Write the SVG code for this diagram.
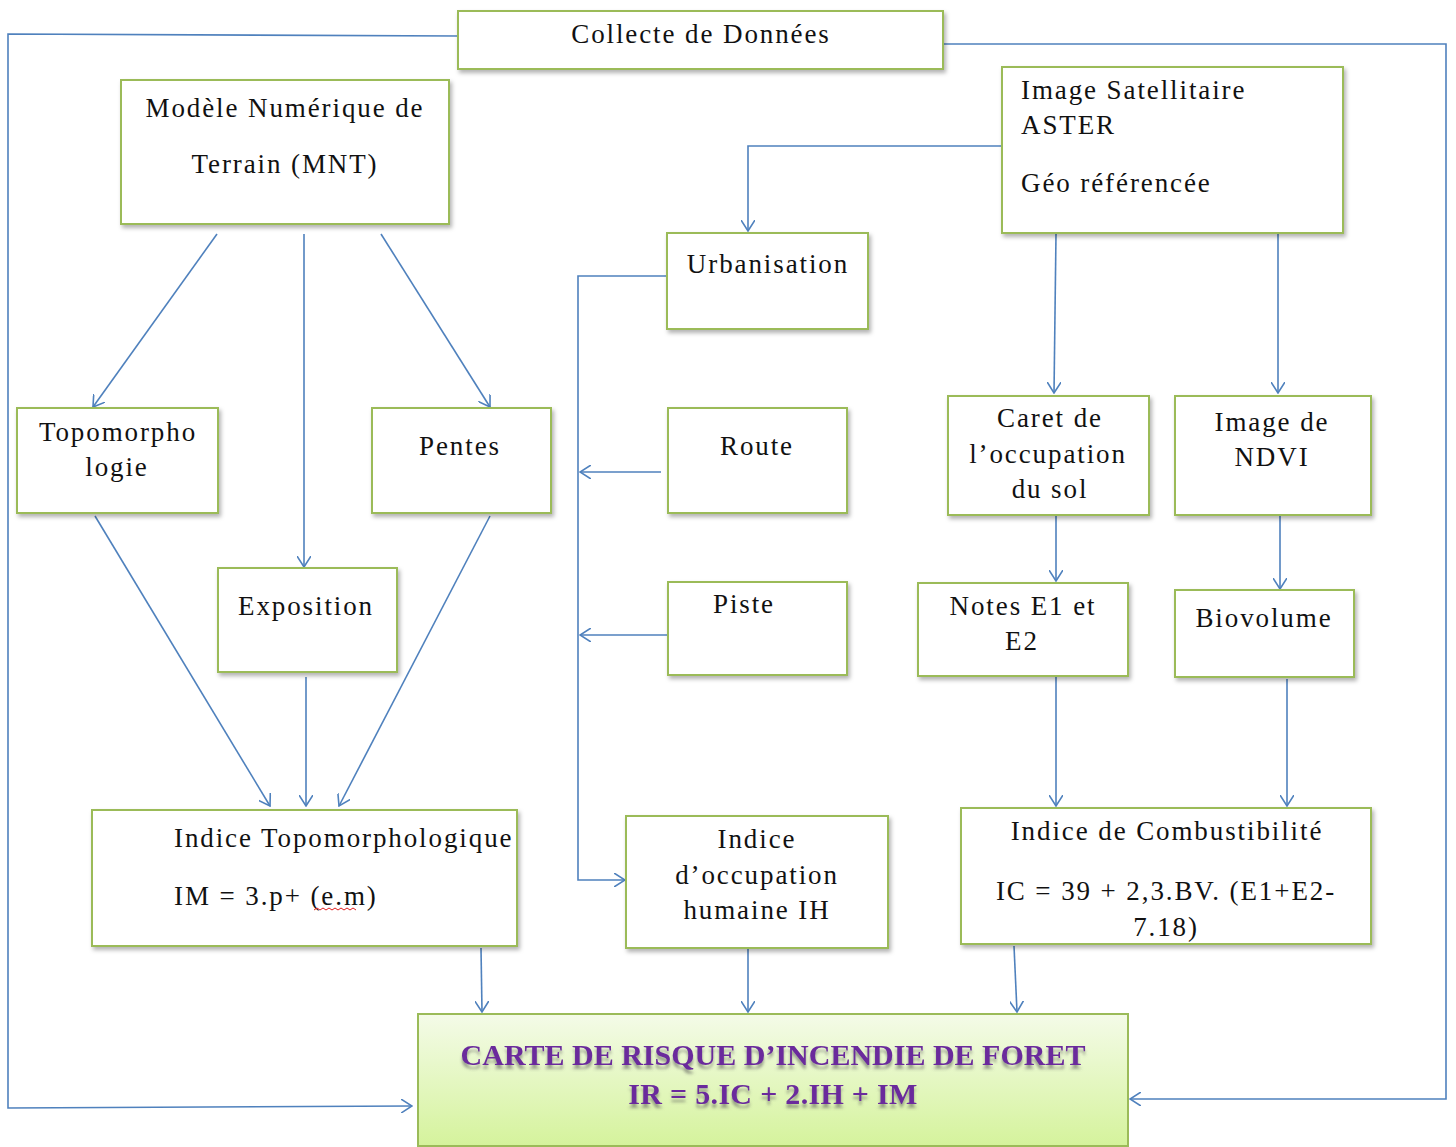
<svg xmlns="http://www.w3.org/2000/svg" width="1456" height="1147" viewBox="0 0 1456 1147">
<defs>
<style>
.box{fill:#fff;stroke:#9bbb59;stroke-width:2;filter:url(#sh)}
.t{font-family:"Liberation Serif","Times New Roman",serif;font-size:27px;letter-spacing:1.9px;fill:#111}
.c{text-anchor:middle}
.ln{fill:none;stroke:#4f81bd;stroke-width:1.6}
.ar{marker-end:url(#ah)}
.big{font-family:"Liberation Serif","Times New Roman",serif;font-size:30px;font-weight:bold;fill:#6b2c9c;text-anchor:middle;filter:url(#tsh)}
</style>
<marker id="ah" viewBox="0 0 12 14" refX="11" refY="7" markerWidth="12" markerHeight="14" markerUnits="userSpaceOnUse" orient="auto">
<path d="M0,0 L11,7 L0,14" fill="none" stroke="#4f81bd" stroke-width="1.6"/>
</marker>
<filter id="sh" x="-10%" y="-10%" width="125%" height="130%">
<feDropShadow dx="2" dy="3" stdDeviation="2" flood-color="#000" flood-opacity="0.3"/>
</filter>
<filter id="tsh" x="-10%" y="-30%" width="120%" height="180%">
<feDropShadow dx="0" dy="4" stdDeviation="1.6" flood-color="#555" flood-opacity="0.55"/>
</filter>
<linearGradient id="gg" x1="0" y1="0" x2="0" y2="1">
<stop offset="0" stop-color="#f4fbe8"/>
<stop offset="1" stop-color="#d5f39c"/>
</linearGradient>
<clipPath id="cpic"><rect x="962" y="809" width="408" height="134"/></clipPath>
</defs>

<g id="connectors">
<polyline class="ln ar" points="458,36 8,34 8,1108 412,1106"/>
<polyline class="ln ar" points="943,44 1446,44 1446,1099 1130,1099"/>
<line class="ln ar" x1="217" y1="234" x2="93" y2="407"/>
<line class="ln ar" x1="304" y1="234" x2="304" y2="567"/>
<line class="ln ar" x1="381" y1="234" x2="490" y2="407"/>
<line class="ln ar" x1="95" y1="516" x2="270" y2="806"/>
<line class="ln ar" x1="306" y1="677" x2="306" y2="806"/>
<line class="ln ar" x1="490" y1="516" x2="339" y2="806"/>
<polyline class="ln ar" points="1002,146 748,146 748,231"/>
<polyline class="ln ar" points="667,276 578,276 578,880 625,880"/>
<line class="ln ar" x1="661" y1="472" x2="580" y2="472"/>
<line class="ln ar" x1="667" y1="635" x2="580" y2="635"/>
<line class="ln ar" x1="1056" y1="234" x2="1054" y2="393"/>
<line class="ln ar" x1="1278" y1="234" x2="1278" y2="393"/>
<line class="ln ar" x1="1056" y1="516" x2="1056" y2="581"/>
<line class="ln ar" x1="1280" y1="516" x2="1280" y2="589"/>
<line class="ln ar" x1="1056" y1="677" x2="1056" y2="806"/>
<line class="ln ar" x1="1287" y1="679" x2="1287" y2="806"/>
<line class="ln ar" x1="481" y1="948" x2="482" y2="1012"/>
<line class="ln ar" x1="748" y1="946" x2="748" y2="1012"/>
<line class="ln ar" x1="1014" y1="946" x2="1017" y2="1012"/>
</g>

<g id="collecte">
<rect class="box" x="458" y="11" width="485" height="58"/>
<text class="t c" x="701" y="43">Collecte de Données</text>
</g>

<g id="mnt">
<rect class="box" x="121" y="80" width="328" height="144"/>
<text class="t c" x="285" y="117">Modèle Numérique de</text>
<text class="t c" x="285" y="173">Terrain (MNT)</text>
</g>

<g id="image-sat">
<rect class="box" x="1002" y="67" width="341" height="166"/>
<text class="t" x="1021" y="99">Image Satellitaire</text>
<text class="t" x="1021" y="134">ASTER</text>
<text class="t" x="1021" y="192">Géo référencée</text>
</g>

<g id="urbanisation">
<rect class="box" x="667" y="233" width="201" height="96"/>
<text class="t c" x="768" y="273">Urbanisation</text>
</g>

<g id="topomorphologie">
<rect class="box" x="17" y="408" width="201" height="105"/>
<text class="t c" x="118" y="441">Topomorpho</text>
<text class="t c" x="117" y="476">logie</text>
</g>

<g id="pentes">
<rect class="box" x="372" y="408" width="179" height="105"/>
<text class="t c" x="460" y="455">Pentes</text>
</g>

<g id="route">
<rect class="box" x="668" y="408" width="179" height="105"/>
<text class="t c" x="757" y="455">Route</text>
</g>

<g id="caret">
<rect class="box" x="948" y="396" width="201" height="119"/>
<text class="t c" x="1050" y="427">Caret de</text>
<text class="t c" x="1048" y="463">l’occupation</text>
<text class="t c" x="1050" y="498">du sol</text>
</g>

<g id="ndvi">
<rect class="box" x="1175" y="396" width="196" height="119"/>
<text class="t c" x="1272" y="431">Image de</text>
<text class="t c" x="1272" y="466">NDVI</text>
</g>

<g id="exposition">
<rect class="box" x="218" y="568" width="179" height="104"/>
<text class="t c" x="306" y="615">Exposition</text>
</g>

<g id="piste">
<rect class="box" x="668" y="582" width="179" height="93"/>
<text class="t c" x="744" y="613">Piste</text>
</g>

<g id="notes">
<rect class="box" x="918" y="583" width="210" height="93"/>
<text class="t c" x="1023" y="615">Notes E1 et</text>
<text class="t c" x="1022" y="650">E2</text>
</g>

<g id="biovolume">
<rect class="box" x="1175" y="590" width="179" height="87"/>
<text class="t c" x="1264" y="627">Biovolume</text>
</g>

<g id="indice-topo">
<rect class="box" x="92" y="810" width="425" height="136"/>
<text class="t" x="174" y="847">Indice Topomorphologique</text>
<text class="t" x="174" y="905" letter-spacing="0.2">IM = 3.p+ (e.m)</text>
<path d="M314,910 l3,-2 l3,2 l3,-2 l3,2 l3,-2 l3,2 l3,-2 l3,2 l3,-2 l3,2 l3,-2 l3,2 l3,-2 l3,2" fill="none" stroke="#e02020" stroke-width="1"/>
</g>

<g id="indice-occupation">
<rect class="box" x="626" y="816" width="262" height="132"/>
<text class="t c" x="757" y="848">Indice</text>
<text class="t c" x="757" y="884">d’occupation</text>
<text class="t c" x="757" y="919">humaine IH</text>
</g>

<g id="indice-combustibilite">
<rect class="box" x="961" y="808" width="410" height="136"/>
<text class="t c" x="1167" y="840">Indice de Combustibilité</text>
<g clip-path="url(#cpic)">
<text class="t c" x="1166" y="900" letter-spacing="0.6">IC = 39 + 2,3.BV. (E1+E2-</text>
<text class="t c" x="1166" y="936" letter-spacing="0.6">7.18)</text>
</g>
</g>

<g id="carte-risque">
<rect x="418" y="1014" width="710" height="132" fill="url(#gg)" stroke="#9bbb59" stroke-width="2"/>
<text class="big" x="773" y="1065">CARTE DE RISQUE D’INCENDIE DE FORET</text>
<text class="big" x="773" y="1104" letter-spacing="0.3">IR = 5.IC + 2.IH + IM</text>
</g>
</svg>
